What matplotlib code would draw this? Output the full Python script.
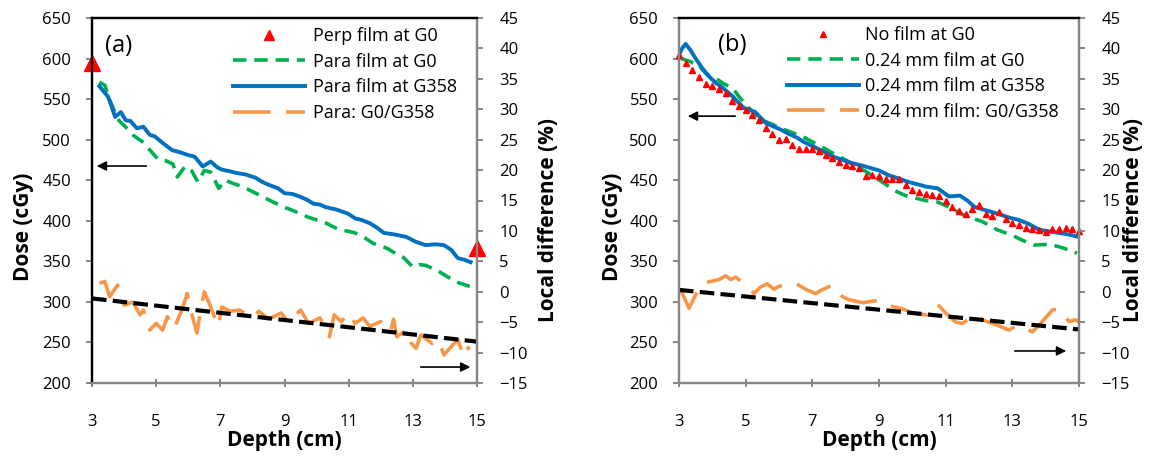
import matplotlib
matplotlib.use("Agg")
import matplotlib.pyplot as plt
from matplotlib.ticker import MultipleLocator

plt.rcParams['font.family'] = ['Open Sans', 'DejaVu Sans']

# ---- panel (a): perpendicular vs parallel film ----
perp_depth = [3, 15]
perp_dose = [595, 367]

para_g0_depth = [3.23, 3.4, 3.55, 3.7, 3.85, 4.04, 4.3, 4.62, 4.85, 5.08, 5.3, 5.52, 5.66, 5.9,
                 6.1, 6.3, 6.5, 6.7, 6.95, 7.15, 7.4, 7.7, 8.0, 8.3, 8.65, 8.98, 9.3, 9.7, 10.0,
                 10.3, 10.7, 11.0, 11.2, 11.5, 11.77, 12.0, 12.2, 12.45, 12.7, 13.0, 13.2, 13.4,
                 13.75, 14.08, 14.4, 14.7, 14.85]
para_g0_dose = [571, 567, 549, 535, 523, 516, 505, 496, 485, 475, 474, 470, 454, 467,
                462, 448, 462, 460, 440, 450, 446, 442, 436, 430, 423, 417, 412, 405, 401,
                397, 389, 387, 385, 379, 372, 369, 366, 360, 355, 343, 346, 345,
                339, 331, 324, 320, 318]

para_g358_depth = [3.23, 3.35, 3.5, 3.62, 3.72, 3.9, 4.05, 4.2, 4.4, 4.6, 4.8, 4.96, 5.2, 5.5,
                   5.7, 5.85, 6.0, 6.2, 6.45, 6.7, 6.9, 7.05, 7.3, 7.5, 7.8, 8.1, 8.3, 8.53,
                   8.8, 9.0, 9.25, 9.46, 9.7, 9.9, 10.1, 10.27, 10.6, 10.97, 11.2, 11.4, 11.66,
                   11.9, 12.1, 12.45, 12.8, 13.1, 13.4, 13.7, 13.97, 14.2, 14.4, 14.6, 14.8]
para_g358_dose = [566, 560, 553, 540, 528, 534, 524, 523, 514, 516, 506, 504, 496, 487,
                  485, 483, 481, 479, 467, 473, 466, 463, 461, 459, 457, 453, 448, 444,
                  440, 434, 433, 430, 426, 421, 420, 417, 414, 409, 403, 401, 397,
                  391, 385, 383, 380, 374, 370, 371, 370, 364, 354, 352, 349]

para_ratio_depth = [3.23, 3.4, 3.55, 3.8, 4.0, 4.27, 4.5, 4.6, 4.8, 5.0, 5.2, 5.35, 5.55, 5.8,
                    5.97, 6.13, 6.27, 6.4, 6.5, 6.7, 6.93, 7.05, 7.3, 7.6, 8.0, 8.2, 8.5, 8.9,
                    9.1, 9.35, 9.5, 9.75, 10.1, 10.25, 10.4, 10.55, 10.77, 11.0, 11.2, 11.45,
                    11.66, 12.0, 12.3, 12.4, 12.5, 12.8, 12.9, 13.1, 13.25, 13.6, 13.8, 13.97,
                    14.2, 14.4, 14.5, 14.63, 14.75]
para_ratio_pct = [1.4, 1.7, -0.8, 1.1, -2.2, -1.7, -3.8, -3.0, -6.3, -5.2, -6.3, -4.1, -6.1, -3.0,
                  -0.3, -4.1, -6.8, -2.6, 0.0, -2.5, -5.7, -2.5, -3.2, -3.0, -4.3, -3.2, -4.5, -3.5,
                  -4.9, -3.8, -3.0, -5.2, -4.3, -5.7, -7.4, -3.8, -4.9, -3.5, -5.2, -4.3,
                  -5.7, -4.9, -6.6, -4.5, -7.4, -6.3, -8.2, -9.3, -7.1, -8.5, -7.9, -10.4,
                  -9.0, -7.9, -9.3, -7.9, -9.6]

trend_a_depth = [3, 15]
trend_a_pct = [-1.1, -8.2]

# ---- panel (b): no film vs 0.24 mm film ----
nofilm_depth = [3.0, 3.2, 3.4, 3.6, 3.8, 4.0, 4.2, 4.4, 4.6, 4.8, 5.0, 5.2, 5.4, 5.6, 5.8,
                6.0, 6.2, 6.4, 6.6, 6.8, 7.0, 7.2, 7.4, 7.6, 7.8, 8.0, 8.2, 8.4, 8.6, 8.8,
                9.0, 9.2, 9.4, 9.6, 9.8, 10.0, 10.2, 10.4, 10.6, 10.8, 11.0, 11.2, 11.4, 11.6,
                11.8, 12.0, 12.2, 12.4, 12.6, 12.8, 13.0, 13.2, 13.4, 13.6, 13.8, 14.0, 14.2,
                14.4, 14.6, 14.8, 15.0]
nofilm_dose = [604, 594, 586, 577, 569, 566, 562, 558, 548, 541, 536, 531, 524, 514, 507,
               499, 501, 494, 488, 489, 489, 486, 481, 477, 472, 469, 468, 465, 455, 457,
               455, 451, 451, 452, 444, 438, 436, 433, 432, 430, 424, 417, 412, 408,
               414, 419, 408, 406, 411, 402, 397, 395, 391, 390, 389, 386, 390,
               390, 391, 390, 388]

film_g0_depth = [3.05, 3.3, 3.6, 3.85, 4.06, 4.3, 4.62, 4.8, 5.0, 5.25, 5.5, 5.85, 6.18, 6.45,
                 6.74, 7.2, 7.63, 8.0, 8.3, 8.6, 8.86, 9.2, 9.53, 9.8, 10.09, 10.4, 10.76,
                 11.1, 11.54, 11.8, 12.1, 12.54, 13.0, 13.3, 13.66, 14.1, 14.4, 14.7, 14.94]
film_g0_dose = [600, 597, 591, 580, 577, 570, 563, 553, 543, 533, 524, 518, 512, 508,
                503, 493, 483, 475, 467, 461, 454, 445, 436, 431, 428, 425, 423,
                417, 407, 403, 399, 389, 382, 376, 370, 371, 368, 364, 360]

film_g358_depth = [3.0, 3.1, 3.2, 3.35, 3.5, 3.7, 3.9, 4.1, 4.28, 4.45, 4.62, 4.8, 4.95, 5.1,
                   5.29, 5.45, 5.62, 5.85, 6.07, 6.3, 6.52, 6.75, 6.96, 7.3, 7.63, 7.9, 8.2,
                   8.5, 8.75, 9.0, 9.3, 9.6, 9.87, 10.15, 10.42, 10.76, 11.1, 11.43, 11.65,
                   11.87, 12.2, 12.54, 12.9, 13.2, 13.5, 13.8, 14.1, 14.4, 14.7, 15.0]
film_g358_dose = [605, 613, 618, 610, 600, 588, 578, 570, 565, 559, 553, 545, 539, 537,
                  534, 527, 520, 516, 512, 507, 503, 497, 493, 486, 479, 475, 471,
                  468, 465, 462, 456, 452, 448, 445, 442, 440, 430, 431, 425,
                  417, 413, 409, 404, 401, 396, 389, 387, 385, 383, 380]

film_ratio_depth = [3.05, 3.3, 3.5, 3.7, 3.95, 4.2, 4.4, 4.55, 4.7, 4.9, 5.25, 5.45, 5.65, 5.85,
                    6.0, 6.5, 6.8, 7.1, 7.25, 7.6, 7.9, 8.1, 8.5, 9.0, 9.3, 9.7, 10.0, 10.4,
                    10.75, 11.0, 11.3, 11.5, 11.9, 12.1, 12.55, 12.9, 13.15, 13.6, 13.9, 14.2,
                    14.4, 14.7, 14.9, 15.0]
film_ratio_pct = [0.3, -2.7, -0.5, 1.4, 1.7, 2.0, 2.6, 2.0, 2.4, 1.6, -0.3, 0.8, 1.3, 0.4,
                  0.9, 1.4, 0.4, -0.3, 0.2, 1.1, -0.8, -1.3, -1.8, -1.4, -2.3, -2.8, -3.5, -3.8,
                  -2.0, -3.5, -5.0, -5.2, -3.8, -4.6, -5.5, -6.3, -5.5, -6.6, -4.9, -3.0,
                  -2.8, -4.9, -4.6, -5.0]

trend_b_depth = [3, 15]
trend_b_pct = [0.3, -6.2]

depth_ticks = [3, 5, 7, 9, 11, 13, 15]

GREEN = '#00B050'
BLUE = '#0070C0'
ORANGE = '#F79646'
RED = '#FF0000'
GRAY = '#868686'

GREEN_DASH = (3.7, 2.2)
ORANGE_DASH = (10.4, 4.3)
TREND_DASH = (3.5, 1.5)

fig = plt.figure(figsize=(11.65, 4.57), dpi=100)
ax_a = fig.add_axes([92 / 1165, 74 / 457, 385 / 1165, 365 / 457])
ax_b = fig.add_axes([679 / 1165, 74 / 457, 400 / 1165, 365 / 457])


def style_axes(ax, ax2, left_color):
    ax.set_xlim(3, 15)
    ax.set_ylim(200, 650)
    ax2.set_ylim(-15, 45)
    ax.set_xticks(depth_ticks)
    ax.yaxis.set_major_locator(MultipleLocator(50))
    ax2.yaxis.set_major_locator(MultipleLocator(5))
    for a in (ax, ax2):
        for side in ('top', 'bottom', 'left', 'right'):
            a.spines[side].set_linewidth(1.6)
        a.spines['top'].set_color('black')
        a.spines['bottom'].set_color(GRAY)
        a.spines['right'].set_color(GRAY)
        a.spines['left'].set_color(left_color)
    ax.tick_params(axis='x', direction='inout', length=6, width=1.4, color=GRAY,
                   pad=19, labelsize=12)
    ax.tick_params(axis='y', direction='out', length=4, width=1.4, color=GRAY,
                   pad=11, labelsize=12)
    ax2.tick_params(axis='y', direction='out', length=4, width=1.4, color=GRAY,
                    pad=12, labelsize=12)
    ax.set_xlabel('Depth (cm)', fontsize=15, fontweight='bold')
    ax.xaxis.set_label_coords(0.5, -0.128)
    ax.set_ylabel('Dose (cGy)', fontsize=15, fontweight='bold')
    ax2.set_ylabel('Local difference (%)', fontsize=15, fontweight='bold')


# panel (a)
ax_a2 = ax_a.twinx()
ax_a.plot(perp_depth, perp_dose, linestyle='none', marker='^', markersize=12,
          color=RED, clip_on=False, zorder=5, label='Perp film at G0')
ax_a.plot(para_g0_depth, para_g0_dose, color=GREEN, lw=2.6, dashes=GREEN_DASH,
          label='Para film at G0')
ax_a.plot(para_g358_depth, para_g358_dose, color=BLUE, lw=2.8, label='Para film at G358')
ax_a.plot([], [], color=ORANGE, lw=2.6, dashes=ORANGE_DASH, label='Para: G0/G358')
ax_a2.plot(para_ratio_depth, para_ratio_pct, color=ORANGE, lw=2.6, dashes=ORANGE_DASH)
ax_a2.plot(trend_a_depth, trend_a_pct, color='black', lw=3, dashes=TREND_DASH)
style_axes(ax_a, ax_a2, 'black')
ax_a.yaxis.set_label_coords(-0.151, 0.427)
ax_a2.yaxis.set_label_coords(1.159, 0.447)
ax_a.text(0.033, 0.922, '(a)', transform=ax_a.transAxes, fontsize=17, va='center')
ax_a.legend(loc='upper left', bbox_to_anchor=(0.366, 0.975), frameon=False, fontsize=13,
            handlelength=4.0, handletextpad=0.45, labelspacing=0.42, borderpad=0,
            borderaxespad=0, numpoints=1, markerscale=0.6)
ax_a.annotate('', xy=(3.06, 467.5), xytext=(4.78, 467.5),
              arrowprops=dict(arrowstyle='-|>', color='black', lw=1.2, mutation_scale=14))
ax_a.annotate('', xy=(14.88, 219.7), xytext=(13.16, 219.7),
              arrowprops=dict(arrowstyle='-|>', color='black', lw=1.2, mutation_scale=14))

# panel (b)
ax_b2 = ax_b.twinx()
ax_b.plot(film_g0_depth, film_g0_dose, color=GREEN, lw=2.6, dashes=GREEN_DASH,
          label='0.24 mm film at G0')
ax_b.plot(film_g358_depth, film_g358_dose, color=BLUE, lw=2.8, label='0.24 mm film at G358')
ax_b.plot(nofilm_depth, nofilm_dose, linestyle='none', marker='^', markersize=5,
          color=RED, clip_on=False, zorder=5, label='No film at G0')
ax_b.plot([], [], color=ORANGE, lw=2.6, dashes=ORANGE_DASH, label='0.24 mm film: G0/G358')
ax_b2.plot(film_ratio_depth, film_ratio_pct, color=ORANGE, lw=2.6, dashes=ORANGE_DASH)
ax_b2.plot(trend_b_depth, trend_b_pct, color='black', lw=3, dashes=TREND_DASH)
style_axes(ax_b, ax_b2, GRAY)
ax_b.yaxis.set_label_coords(-0.14, 0.427)
ax_b2.yaxis.set_label_coords(1.11, 0.447)
ax_b.text(0.098, 0.925, '(b)', transform=ax_b.transAxes, fontsize=17, va='center')
handles, labels = ax_b.get_legend_handles_labels()
order = [2, 0, 1, 3]
ax_b.legend([handles[i] for i in order], [labels[i] for i in order],
            loc='upper left', bbox_to_anchor=(0.27, 0.978), frameon=False, fontsize=13,
            handlelength=4.0, handletextpad=0.3, labelspacing=0.42, borderpad=0,
            borderaxespad=0, numpoints=1)
ax_b.annotate('', xy=(3.18, 529), xytext=(4.77, 529),
              arrowprops=dict(arrowstyle='-|>', color='black', lw=1.2, mutation_scale=14))
ax_b.annotate('', xy=(14.7, 239.5), xytext=(12.99, 239.5),
              arrowprops=dict(arrowstyle='-|>', color='black', lw=1.2, mutation_scale=14))

fig.savefig('out.png', dpi=100)
